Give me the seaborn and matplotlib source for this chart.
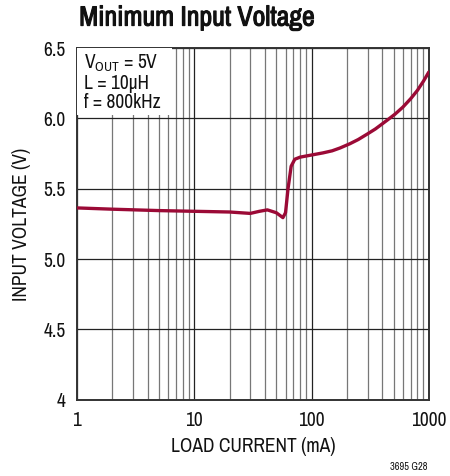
import matplotlib
matplotlib.use("Agg")
import matplotlib.pyplot as plt
import matplotlib.ticker as mticker
import matplotlib.patheffects as pe
from matplotlib import font_manager
import seaborn as sns
import pandas as pd

# values
load_current = [1, 2, 5, 10, 20, 30, 36, 42, 50, 57, 60, 63, 67, 72, 80,
                100, 125, 150, 175, 212, 250, 300, 350, 406, 450, 514, 600,
                700, 800, 900, 1000]
input_voltage = [5.364, 5.355, 5.345, 5.34, 5.335, 5.325, 5.34, 5.35, 5.33,
                 5.295, 5.33, 5.50, 5.66, 5.71, 5.725, 5.74, 5.755, 5.77,
                 5.79, 5.82, 5.85, 5.89, 5.925, 5.965, 5.993, 6.03, 6.08,
                 6.14, 6.20, 6.265, 6.33]
x_ticks = [1, 10, 100, 1000]
x_tick_labels = ["1", "10", "100", "1000"]
y_ticks = [4, 4.5, 5.0, 5.5, 6.0, 6.5]
y_tick_labels = ["4", "4.5", "5.0", "5.5", "6.0", "6.5"]

sns.set_style("white")
names = sorted({f.name for f in font_manager.fontManager.ttflist})
narrow = [n for n in names if "Narrow" in n or "Condensed" in n]
FONT = narrow[:1] + ["DejaVu Sans"]
plt.rcParams["font.family"] = FONT
for key in ["text.color", "axes.labelcolor", "xtick.color", "ytick.color"]:
    plt.rcParams[key] = "#111111"
plt.rcParams["mathtext.fontset"] = "custom"
plt.rcParams["mathtext.rm"] = FONT[0]

df = pd.DataFrame({"current": load_current, "voltage": input_voltage})

fig = plt.figure(figsize=(4.5, 4.76), dpi=100)
ax = fig.add_axes([0.171, 0.160, 0.782, 0.739])

ax.set_xscale("log")
ax.set_xlim(1, 1000)
ax.set_ylim(4, 6.5)

# grid: decades darker, minors grey
ax.xaxis.set_minor_locator(mticker.LogLocator(base=10, subs=range(2, 10)))
ax.grid(which="major", axis="both", color="#222222", linewidth=0.9)
ax.grid(which="minor", axis="x", color="#777777", linewidth=0.9)
ax.set_axisbelow(True)

sns.lineplot(data=df, x="current", y="voltage", ax=ax, color="#9b0a36",
             linewidth=2.4, zorder=5)

ax.set_xticks(x_ticks)
ax.set_xticklabels(x_tick_labels)
ax.set_yticks(y_ticks)
ax.set_yticklabels(y_tick_labels)
ax.xaxis.set_minor_formatter(mticker.NullFormatter())
ax.tick_params(axis="x", which="both", length=0, labelsize=14, pad=8)
ax.tick_params(axis="y", which="both", length=0, labelsize=14, pad=8)

for s in ax.spines.values():
    s.set_color("#333333")
    s.set_linewidth(1.4)

ax.set_xlabel("LOAD CURRENT (mA)", fontsize=14, labelpad=5)
ax.set_ylabel("INPUT VOLTAGE (V)", fontsize=14, labelpad=9)

# white box behind the conditions text
ax.add_patch(plt.Rectangle((0.0, 0.81), 0.27, 0.19, transform=ax.transAxes,
                           facecolor="white", edgecolor="none", zorder=3))
ax.text(0.02, 0.988, "V$_{\\rm OUT}$ = 5V\nL = 10µH\nf = 800kHz",
        transform=ax.transAxes, ha="left", va="top", fontsize=14,
        linespacing=1.0, zorder=4)

fig.text(0.176, 0.962, "Minimum Input Voltage", fontsize=20,
         fontweight="bold", ha="left", va="center",
         path_effects=[pe.withStroke(linewidth=0.8, foreground="#111111")])
fig.text(0.951, 0.019, "3695 G28", fontsize=7.5, ha="right", va="center")

plt.savefig("out.png", dpi=100)
plt.close()
